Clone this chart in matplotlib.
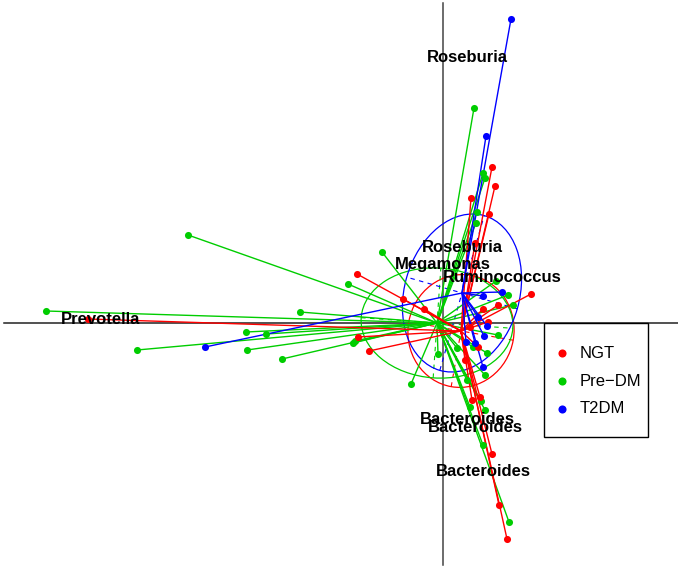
import matplotlib
matplotlib.use("Agg")
import matplotlib.pyplot as plt
from matplotlib.patches import Ellipse, Rectangle
import numpy as np

plt.rcParams["font.family"] = ["Liberation Sans", "DejaVu Sans"]

groups = ["NGT", "Pre\u2212DM", "T2DM"]
colors = ["#ff0000", "#00cd00", "#0000ff"]

# sample scores (first two axes) per group
ngt_x = [-3.55, -0.86, -0.40, -0.19, -0.85, -0.74, 0.88, 0.28, 0.46, 0.52, 0.49, 0.32,
         0.40, 0.55, 0.29, 0.37, 0.35, 0.27, 0.49, 0.56, 0.64, 0.22, 0.45]
ngt_y = [0.04, 0.49, 0.24, 0.14, -0.14, -0.28, 0.29, 1.25, 1.09, 1.37, 1.56, 0.80,
         0.14, 0.18, -0.77, -0.74, -0.24, -0.04, -1.31, -1.82, -2.16, -0.37, 0.01]
pre_x = [-3.97, -2.55, -3.06, -1.97, -1.77, -1.96, -1.61, -1.43, -0.95, -0.61, -0.90,
         -0.88, -0.32, -0.05, 0.31, 0.40, 0.42, 0.34, 0.33, 0.65, 0.70, 0.53, 0.44,
         0.55, 0.30, 0.14, 0.42, 0.24, 0.27, 0.38, 0.42, 0.40, 0.66]
pre_y = [0.12, 0.88, -0.27, -0.09, -0.11, -0.27, -0.36, 0.11, 0.39, 0.71, -0.20,
         -0.18, -0.61, -0.31, 2.15, 1.50, 1.45, 1.11, 1.00, 0.28, 0.18, 0.42, -0.30,
         -0.12, -0.24, -0.25, -0.52, -0.57, -0.84, -0.78, -0.87, -1.22, -1.99]
t2dm_x = [0.68, 0.43, -2.38, 0.59, 0.40, 0.41, 0.44, 0.40, 0.23, 0.35, 0.32]
t2dm_y = [3.04, 1.87, -0.24, 0.31, 0.27, -0.13, -0.03, -0.44, -0.19, 0.06, -0.20]

# group centroids and ellipse (width, height, angle)
cent_x = [0.18, -0.06, 0.19]
cent_y = [-0.08, 0.00, 0.30]
ell_w = [1.13, 1.52, 1.61]
ell_h = [1.06, 1.10, 1.15]
ell_ang = [80, -4, 74]

# genus labels
genus = ["Roseburia", "Roseburia", "Megamonas", "Ruminococcus", "Prevotella",
         "Bacteroides", "Bacteroides", "Bacteroides"]
genus_x = [0.24, 0.19, 0.00, 0.59, -3.42, 0.24, 0.32, 0.40]
genus_y = [2.65, 0.75, 0.59, 0.46, 0.04, -0.96, -1.05, -1.49]

xs = [ngt_x, pre_x, t2dm_x]
ys = [ngt_y, pre_y, t2dm_y]

fig = plt.figure(figsize=(6.78, 5.69), dpi=100)
ax = fig.add_axes([0, 0, 1, 1])
ax.set_xlim(-4.43, 2.35)
ax.set_ylim(-2.46, 3.23)
ax.axis("off")

ax.plot([0, 0], [-2.42, 3.20], color="#444444", lw=1.1, zorder=1)
ax.plot([-4.39, 2.35], [0, 0], color="#222222", lw=1.1, zorder=1)

for i in range(3):
    cx, cy = cent_x[i], cent_y[i]
    ax.add_patch(Ellipse((cx, cy), ell_w[i], ell_h[i], angle=ell_ang[i],
                         fill=False, edgecolor=colors[i], lw=0.9, zorder=2))
    a = np.deg2rad(ell_ang[i])
    for half, ang in [(ell_w[i] / 2, a), (ell_h[i] / 2, a + np.pi / 2)]:
        dx, dy = half * np.cos(ang), half * np.sin(ang)
        ax.plot([cx - dx, cx + dx], [cy - dy, cy + dy], color=colors[i],
                lw=0.8, ls=(0, (4, 4)), zorder=2)

for i in [1, 0, 2]:
    for px, py in zip(xs[i], ys[i]):
        ax.plot([cent_x[i], px], [cent_y[i], py], color=colors[i], lw=1.0, zorder=3)
    ax.scatter(xs[i], ys[i], s=26, color=colors[i], zorder=4, linewidths=0)

for t, gx, gy in zip(genus, genus_x, genus_y):
    ax.text(gx, gy, t, ha="center", va="center", fontsize=12,
            fontweight="bold", color="black", zorder=5)

# legend box drawn like the R one
ax.add_patch(Rectangle((0.8024, 0.2320), 0.1534, 0.2003, transform=ax.transAxes,
                       facecolor="white", edgecolor="black", lw=1.0, zorder=6))
for k, (g, c) in enumerate(zip(groups, colors)):
    ly = 0.3796 - k * 0.0492
    ax.scatter([0.8289], [ly], s=34, color=c, linewidths=0, transform=ax.transAxes,
               zorder=7)
    ax.text(0.8555, ly, g, fontsize=12, va="center", ha="left",
            transform=ax.transAxes, zorder=7)

fig.savefig("out.png", dpi=100)
